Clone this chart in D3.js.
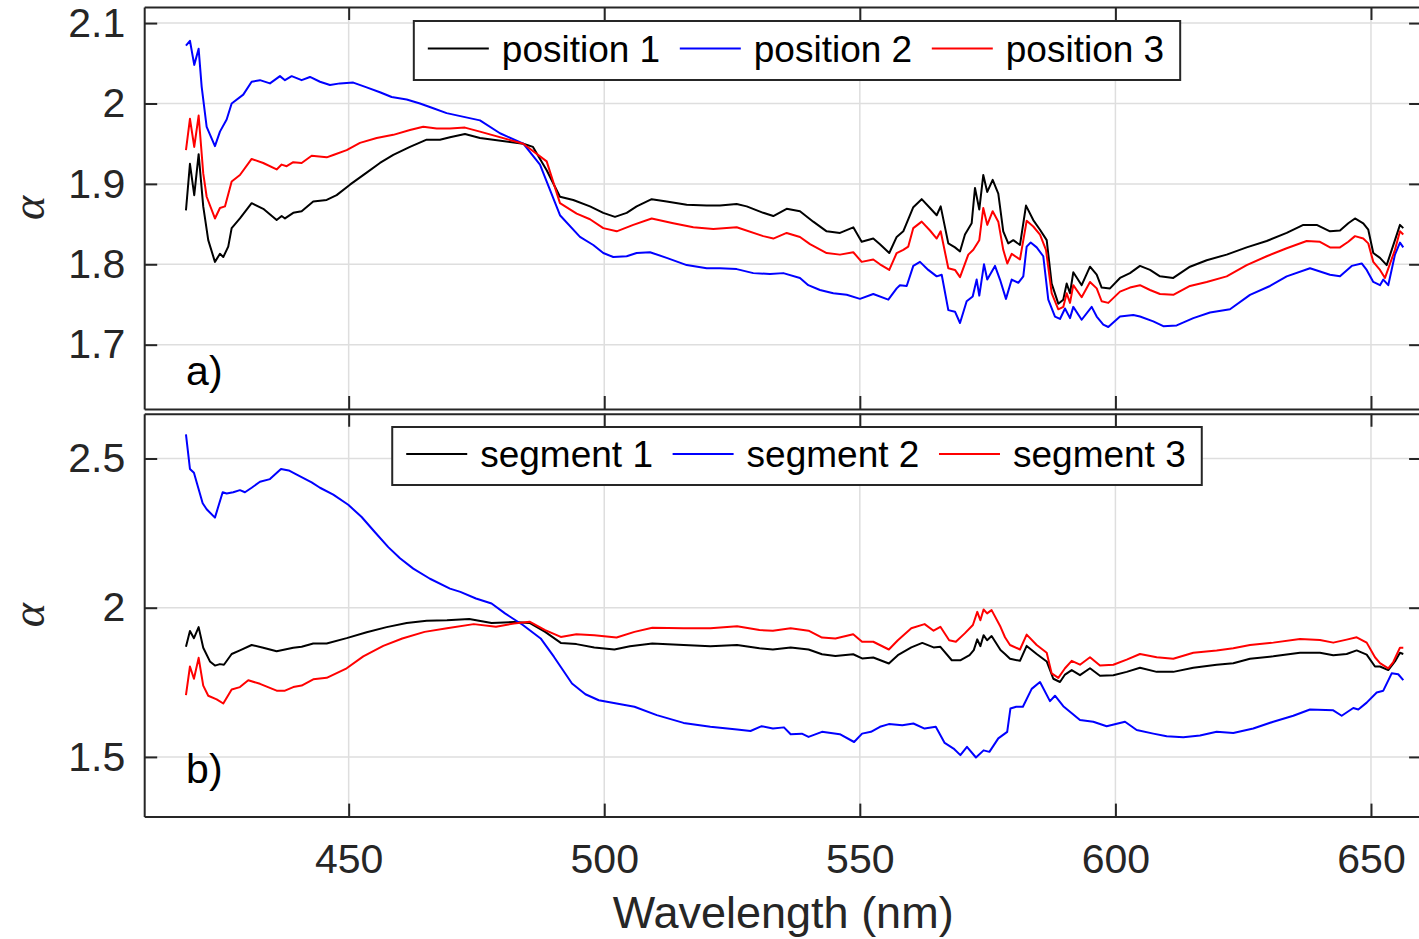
<!DOCTYPE html>
<html>
<head>
<meta charset="utf-8">
<script src="https://cdn.jsdelivr.net/npm/d3@7"></script>
<style>
  html, body { margin: 0; padding: 0; background: #ffffff; }
  svg { display: block; }
</style>
</head>
<body>
<script>
// ---------------- DATA (wavelength nm, alpha) ----------------
const xTicks = [450, 500, 550, 600, 650];
const yTicksTop = [1.7, 1.8, 1.9, 2, 2.1];
const yTicksBottom = [1.5, 2, 2.5];
const legendTop = ["position 1", "position 2", "position 3"];
const legendBottom = ["segment 1", "segment 2", "segment 3"];
const seriesColors = ["#000000", "#0000ff", "#ff0000"];
const xLabel = "Wavelength (nm)";
const yLabel = "\u03b1";

const pos1 = [[418.17,1.867],[418.95,1.925],[419.79,1.886],[420.65,1.937],[421.55,1.872],[422.53,1.830],[423.84,1.803],[424.82,1.813],[425.47,1.809],[426.44,1.822],[427.11,1.845],[428.73,1.857],[431.02,1.876],[433.29,1.869],[435.91,1.855],[436.89,1.860],[437.54,1.857],[439.16,1.864],[440.80,1.866],[443.07,1.878],[445.70,1.880],[447.65,1.886],[450.25,1.899],[453.52,1.914],[456.12,1.926],[458.73,1.936],[461.99,1.946],[465.26,1.955],[467.86,1.955],[469.82,1.958],[472.75,1.962],[475.69,1.957],[484.16,1.950],[486.06,1.946],[488.74,1.917],[491.34,1.884],[493.94,1.880],[497.21,1.872],[499.81,1.864],[502.10,1.859],[504.39,1.864],[506.34,1.872],[509.28,1.881],[512.21,1.878],[516.13,1.874],[520.04,1.873],[522.64,1.873],[525.91,1.875],[527.87,1.872],[531.11,1.864],[533.07,1.860],[535.69,1.869],[538.29,1.866],[540.89,1.853],[543.51,1.841],[546.12,1.839],[548.72,1.846],[550.36,1.828],[552.63,1.832],[553.94,1.825],[555.76,1.814],[557.21,1.834],[558.50,1.841],[560.46,1.871],[562.10,1.881],[563.73,1.870],[565.04,1.861],[565.82,1.872],[567.31,1.826],[568.62,1.821],[569.60,1.816],[570.57,1.837],[571.88,1.851],[572.53,1.895],[573.37,1.868],[574.15,1.911],[574.93,1.890],[575.99,1.905],[577.09,1.888],[578.06,1.841],[579.04,1.826],[580.02,1.830],[581.33,1.824],[582.51,1.873],[583.93,1.855],[585.25,1.843],[586.56,1.830],[587.53,1.776],[588.83,1.751],[589.80,1.756],[590.47,1.776],[591.12,1.764],[591.76,1.790],[593.40,1.774],[595.03,1.797],[596.34,1.787],[597.31,1.771],[598.94,1.770],[600.90,1.783],[602.85,1.789],[604.81,1.798],[606.77,1.793],[608.72,1.785],[611.32,1.783],[614.59,1.797],[617.86,1.805],[621.77,1.812],[625.68,1.821],[629.60,1.829],[633.51,1.839],[636.76,1.849],[639.38,1.849],[641.98,1.841],[643.94,1.842],[645.56,1.851],[646.87,1.857],[648.49,1.851],[649.47,1.843],[650.45,1.814],[651.76,1.808],[653.07,1.799],[654.69,1.830],[655.67,1.849],[656.32,1.845]];

const pos2 = [[418.17,2.072],[418.95,2.078],[419.79,2.048],[420.65,2.068],[421.24,2.021],[422.22,1.971],[423.84,1.947],[424.82,1.965],[426.13,1.980],[427.11,2.000],[429.38,2.011],[431.02,2.027],[432.65,2.029],[434.60,2.025],[436.56,2.034],[437.54,2.029],[438.85,2.034],[440.80,2.029],[442.43,2.033],[444.39,2.027],[446.34,2.023],[448.30,2.025],[450.90,2.026],[453.52,2.020],[456.12,2.014],[458.41,2.008],[461.35,2.005],[463.95,2.000],[466.55,1.994],[469.17,1.988],[472.75,1.983],[475.69,1.979],[479.60,1.963],[484.16,1.950],[487.43,1.924],[491.34,1.861],[495.25,1.834],[497.85,1.824],[499.81,1.814],[501.77,1.809],[504.39,1.810],[506.34,1.814],[508.95,1.815],[512.21,1.808],[516.13,1.799],[520.04,1.795],[522.64,1.795],[525.91,1.794],[529.16,1.789],[532.42,1.788],[535.03,1.789],[538.29,1.783],[539.92,1.774],[542.20,1.768],[544.81,1.764],[547.43,1.762],[550.03,1.757],[552.63,1.763],[555.57,1.756],[557.21,1.770],[557.85,1.774],[559.17,1.773],[560.46,1.798],[561.77,1.803],[563.39,1.793],[565.04,1.785],[566.02,1.787],[567.31,1.743],[568.62,1.741],[569.60,1.727],[570.90,1.754],[572.08,1.760],[572.86,1.781],[573.37,1.761],[574.29,1.800],[574.93,1.781],[576.44,1.798],[577.42,1.781],[578.59,1.757],[579.71,1.781],[581.00,1.777],[581.98,1.785],[582.64,1.822],[583.43,1.827],[584.60,1.821],[585.89,1.810],[586.87,1.756],[588.18,1.735],[589.16,1.732],[590.14,1.745],[591.12,1.733],[591.76,1.747],[593.40,1.731],[595.36,1.747],[596.34,1.735],[597.63,1.725],[598.61,1.722],[600.90,1.735],[603.50,1.737],[604.81,1.735],[607.41,1.729],[609.37,1.723],[611.99,1.724],[615.24,1.733],[618.51,1.740],[622.42,1.744],[626.33,1.762],[630.24,1.773],[633.51,1.785],[638.07,1.795],[641.98,1.787],[643.94,1.785],[646.23,1.798],[648.18,1.801],[649.16,1.793],[650.45,1.778],[651.76,1.774],[652.41,1.781],[653.38,1.774],[654.69,1.812],[655.67,1.827],[656.32,1.821]];

const pos3 = [[418.17,1.942],[418.95,1.981],[419.79,1.946],[420.65,1.985],[421.55,1.913],[422.22,1.884],[423.84,1.857],[424.82,1.870],[425.80,1.872],[427.11,1.903],[428.73,1.911],[431.02,1.931],[433.29,1.926],[435.91,1.918],[436.89,1.924],[437.87,1.922],[439.16,1.927],[440.80,1.926],[442.76,1.935],[445.70,1.933],[446.99,1.936],[449.61,1.942],[452.21,1.951],[455.48,1.957],[458.73,1.961],[461.99,1.967],[464.59,1.971],[467.22,1.969],[469.82,1.969],[472.75,1.970],[475.69,1.965],[484.16,1.950],[488.74,1.928],[491.34,1.876],[494.61,1.863],[497.21,1.856],[499.81,1.845],[502.43,1.841],[505.68,1.849],[509.28,1.857],[513.50,1.851],[517.42,1.846],[521.33,1.844],[525.91,1.846],[531.11,1.835],[533.07,1.832],[535.69,1.839],[538.29,1.834],[540.25,1.825],[543.51,1.814],[546.12,1.812],[548.72,1.815],[550.36,1.803],[552.63,1.806],[553.94,1.800],[555.76,1.793],[557.21,1.814],[558.50,1.818],[559.48,1.822],[560.46,1.845],[562.10,1.853],[563.73,1.842],[565.04,1.832],[565.82,1.841],[567.31,1.795],[568.62,1.793],[569.60,1.784],[571.22,1.812],[572.20,1.818],[573.37,1.830],[574.15,1.870],[574.93,1.849],[575.99,1.866],[577.09,1.853],[578.06,1.818],[578.85,1.801],[579.71,1.813],[581.33,1.806],[582.64,1.854],[583.93,1.847],[585.25,1.837],[586.42,1.818],[587.53,1.764],[588.83,1.744],[589.80,1.747],[590.47,1.764],[591.12,1.752],[591.76,1.774],[593.40,1.759],[595.03,1.778],[596.34,1.770],[597.31,1.754],[598.61,1.752],[600.90,1.766],[602.85,1.771],[604.81,1.774],[606.77,1.768],[608.72,1.763],[611.32,1.762],[614.59,1.773],[617.86,1.778],[621.77,1.785],[625.68,1.799],[629.60,1.810],[633.51,1.820],[637.42,1.829],[640.02,1.828],[641.98,1.821],[643.94,1.821],[645.56,1.828],[646.87,1.835],[648.49,1.832],[649.47,1.826],[650.45,1.803],[651.76,1.793],[652.74,1.783],[654.69,1.818],[655.67,1.841],[656.32,1.837]];

const seg1 = [[418.17,1.869],[418.95,1.922],[419.73,1.898],[420.65,1.935],[421.55,1.866],[422.86,1.820],[423.84,1.806],[424.82,1.811],[425.60,1.809],[427.11,1.845],[428.73,1.857],[431.02,1.875],[433.29,1.866],[435.91,1.854],[437.54,1.860],[439.16,1.866],[440.80,1.869],[443.07,1.880],[445.70,1.880],[449.61,1.898],[453.52,1.918],[457.43,1.935],[461.35,1.949],[465.26,1.956],[469.23,1.958],[473.59,1.962],[477.96,1.949],[482.32,1.952],[485.39,1.949],[488.44,1.919],[491.50,1.882],[494.55,1.878],[498.05,1.867],[501.98,1.860],[505.03,1.871],[509.40,1.880],[515.52,1.875],[520.76,1.871],[525.99,1.875],[530.37,1.864],[532.99,1.860],[536.47,1.867],[539.97,1.860],[542.60,1.844],[545.22,1.838],[548.70,1.844],[550.44,1.830],[552.63,1.833],[555.68,1.813],[557.44,1.841],[560.07,1.867],[562.22,1.882],[564.43,1.867],[565.76,1.869],[567.99,1.824],[569.73,1.824],[571.47,1.841],[572.29,1.858],[572.98,1.894],[573.58,1.871],[574.21,1.908],[574.90,1.891],[575.78,1.905],[577.52,1.858],[578.40,1.845],[579.38,1.829],[581.33,1.822],[582.64,1.872],[584.60,1.845],[586.56,1.820],[587.85,1.762],[589.16,1.751],[590.14,1.776],[591.45,1.791],[593.07,1.774],[595.03,1.797],[596.98,1.772],[599.59,1.774],[602.21,1.785],[604.81,1.799],[608.08,1.785],[611.32,1.785],[615.24,1.799],[619.81,1.809],[623.06,1.814],[626.33,1.829],[630.89,1.837],[636.11,1.849],[640.02,1.849],[642.62,1.841],[645.24,1.845],[647.20,1.857],[649.16,1.843],[650.78,1.803],[651.76,1.803],[653.38,1.791],[654.69,1.820],[655.67,1.849],[656.32,1.845]];

const seg2 = [[418.17,2.581],[418.95,2.465],[419.73,2.452],[420.57,2.402],[421.44,2.350],[422.22,2.330],[423.84,2.302],[425.35,2.387],[426.13,2.383],[427.42,2.387],[428.73,2.394],[429.71,2.387],[431.02,2.402],[432.65,2.422],[434.60,2.431],[436.76,2.465],[438.27,2.460],[440.22,2.443],[442.76,2.420],[444.39,2.402],[446.99,2.379],[449.92,2.345],[452.54,2.304],[455.15,2.253],[457.75,2.203],[460.04,2.166],[462.64,2.131],[465.91,2.097],[469.82,2.064],[471.85,2.053],[474.90,2.031],[477.96,2.014],[480.58,1.981],[484.08,1.942],[487.56,1.897],[490.18,1.835],[493.69,1.746],[496.31,1.710],[498.93,1.690],[502.41,1.679],[505.91,1.668],[510.28,1.640],[515.52,1.614],[520.76,1.601],[525.99,1.592],[528.61,1.587],[530.80,1.603],[532.99,1.595],[535.16,1.599],[536.47,1.576],[538.66,1.578],[539.97,1.567],[542.60,1.584],[546.08,1.576],[548.88,1.550],[550.44,1.578],[552.18,1.584],[553.94,1.601],[555.68,1.610],[558.31,1.606],[560.48,1.612],[562.67,1.595],[564.86,1.601],[566.60,1.547],[568.34,1.528],[569.67,1.506],[570.96,1.534],[572.72,1.498],[574.21,1.522],[575.35,1.517],[577.09,1.562],[578.83,1.584],[579.46,1.662],[580.59,1.668],[581.90,1.668],[583.62,1.728],[585.25,1.751],[587.20,1.687],[588.18,1.705],[589.80,1.670],[593.07,1.624],[595.67,1.618],[598.29,1.603],[601.88,1.618],[604.16,1.590],[607.41,1.578],[610.03,1.569],[613.28,1.566],[616.55,1.572],[619.81,1.584],[623.06,1.580],[626.97,1.595],[630.89,1.618],[634.80,1.638],[638.07,1.659],[642.62,1.656],[644.27,1.638],[646.54,1.664],[647.52,1.659],[649.16,1.682],[651.12,1.716],[652.41,1.722],[654.05,1.780],[655.33,1.777],[656.32,1.757]];

const seg3 = [[418.17,1.707],[418.95,1.803],[419.73,1.762],[420.65,1.832],[421.55,1.739],[422.53,1.705],[424.18,1.693],[425.47,1.679],[427.11,1.726],[428.73,1.734],[430.36,1.757],[432.65,1.745],[435.91,1.722],[437.54,1.722],[439.16,1.734],[440.80,1.739],[443.07,1.760],[445.70,1.765],[449.61,1.797],[452.86,1.837],[456.77,1.872],[460.49,1.897],[464.85,1.919],[469.23,1.931],[474.47,1.945],[478.82,1.936],[482.32,1.947],[485.39,1.953],[488.44,1.925],[491.50,1.902],[494.55,1.911],[498.05,1.908],[502.41,1.900],[505.91,1.919],[509.40,1.933],[515.52,1.931],[520.76,1.931],[525.99,1.938],[530.37,1.925],[532.99,1.923],[536.47,1.931],[539.97,1.923],[542.60,1.900],[545.22,1.897],[548.70,1.911],[550.44,1.886],[552.63,1.886],[555.68,1.860],[557.44,1.891],[560.07,1.931],[562.67,1.945],[564.43,1.923],[565.76,1.936],[567.48,1.891],[568.79,1.886],[570.53,1.914],[572.12,1.942],[572.98,1.986],[573.58,1.958],[574.21,1.994],[574.90,1.981],[575.78,1.992],[577.52,1.936],[578.40,1.901],[579.38,1.875],[581.33,1.860],[582.64,1.910],[584.60,1.875],[586.56,1.849],[587.53,1.780],[588.83,1.765],[590.14,1.797],[591.45,1.822],[593.07,1.809],[595.03,1.834],[596.98,1.806],[599.59,1.809],[602.21,1.826],[604.81,1.845],[608.08,1.834],[611.32,1.829],[615.24,1.849],[619.81,1.857],[623.06,1.864],[626.33,1.875],[630.89,1.883],[636.11,1.895],[640.02,1.892],[642.62,1.883],[645.24,1.893],[647.20,1.901],[649.16,1.883],[650.78,1.834],[651.76,1.814],[653.38,1.797],[654.36,1.818],[655.67,1.866],[656.32,1.866]];

// ---------------- LAYOUT / STYLE ----------------
const W = 1419, H = 939;
const AXC = "#262626";
const FONT = "'Liberation Sans', Arial, Helvetica, sans-serif";
const TICK_FS = 41, LEG_FS = 37, LAB_FS = 45;
const TICK_LEN = 13;

const svg = d3.select("body").append("svg").attr("width", W).attr("height", H)
  .style("font-family", FONT);

const x = d3.scaleLinear().domain([410, 660]).range([144.2, 1422.1]);

const panels = [
  { top: 7, bottom: 409, domain: [1.62, 2.12], ticks: yTicksTop, series: [pos1, pos2, pos3],
    names: legendTop, legendTop: 21, legendH: 59, tag: "a)", tagAt: [418.2, 1.667], xLabels: false },
  { top: 413.75, bottom: 816.6, domain: [1.3, 2.65], ticks: yTicksBottom, series: [seg1, seg2, seg3],
    names: legendBottom, legendTop: 427, legendH: 58, tag: "b)", tagAt: [418.2, 1.46], xLabels: true }
];

panels.forEach((p, pi) => {
  const y = d3.scaleLinear().domain(p.domain).range([p.bottom, p.top]);
  const g = svg.append("g");
  const x0 = x.range()[0], x1 = x.range()[1];

  // clip
  const cid = "clip" + pi;
  svg.append("defs").append("clipPath").attr("id", cid)
    .append("rect").attr("x", x0).attr("y", p.top).attr("width", x1 - x0).attr("height", p.bottom - p.top);

  // grid
  const grid = g.append("g").attr("stroke", "#dedede").attr("stroke-width", 1.5);
  grid.selectAll("line.vx").data(xTicks).join("line")
    .attr("x1", d => x(d)).attr("x2", d => x(d)).attr("y1", p.top).attr("y2", p.bottom);
  grid.selectAll("line.hy").data(p.ticks).join("line")
    .attr("x1", x0).attr("x2", x1).attr("y1", d => y(d)).attr("y2", d => y(d));

  // data lines
  const line = d3.line().x(d => x(d[0])).y(d => y(d[1]));
  const lg = g.append("g").attr("clip-path", `url(#${cid})`);
  p.series.forEach((s, i) => {
    lg.append("path").datum(s).attr("d", line).attr("fill", "none")
      .attr("stroke", seriesColors[i]).attr("stroke-width", 2).attr("stroke-linejoin", "round");
  });

  // axes (ticks inward on all four sides)
  const styleAxis = sel => {
    sel.select(".domain").attr("stroke", AXC).attr("stroke-width", 2);
    sel.selectAll(".tick line").attr("stroke", AXC).attr("stroke-width", 2);
    sel.selectAll(".tick text").attr("fill", AXC).style("font-size", TICK_FS + "px").style("font-family", FONT);
  };
  const fmt = d => String(d);
  g.append("g").attr("transform", `translate(${x0},0)`)
    .call(d3.axisLeft(y).tickValues(p.ticks).tickFormat(fmt).tickSizeInner(-TICK_LEN).tickSizeOuter(0).tickPadding(19))
    .call(styleAxis);
  g.append("g").attr("transform", `translate(${x1},0)`)
    .call(d3.axisRight(y).tickValues(p.ticks).tickFormat("").tickSizeInner(-TICK_LEN).tickSizeOuter(0))
    .call(styleAxis);
  g.append("g").attr("transform", `translate(0,${p.top})`)
    .call(d3.axisTop(x).tickValues(xTicks).tickFormat("").tickSizeInner(-TICK_LEN).tickSizeOuter(0))
    .call(styleAxis);
  const bx = g.append("g").attr("transform", `translate(0,${p.bottom})`)
    .call(d3.axisBottom(x).tickValues(xTicks).tickFormat(p.xLabels ? fmt : "").tickSizeInner(-TICK_LEN).tickSizeOuter(0).tickPadding(20))
    .call(styleAxis);
  if (p.xLabels) {
    bx.selectAll(".tick text").attr("dy", null)
      .attr("y", 873 - p.bottom).attr("dominant-baseline", "auto");
  }

  // y label (alpha)
  const cy = (p.top + p.bottom) / 2;
  g.append("text").text(yLabel)
    .attr("transform", `translate(28,${cy}) rotate(-90)`)
    .attr("text-anchor", "middle").attr("dominant-baseline", "central")
    .style("font-family", "'Liberation Serif', 'DejaVu Serif', serif")
    .style("font-style", "italic").style("font-size", "46px").attr("fill", AXC);

  // panel tag
  g.append("text").text(p.tag)
    .attr("x", x(p.tagAt[0])).attr("y", y(p.tagAt[1]))
    .attr("dominant-baseline", "central")
    .style("font-size", TICK_FS + "px").attr("fill", "#000");

  // legend
  const leg = g.append("g");
  const box = leg.append("rect").attr("fill", "#fff").attr("stroke", AXC).attr("stroke-width", 2);
  const padL = 14, lineLen = 61, gapLT = 13, gapItem = 19.6, padR = 16;
  const lineY = p.legendTop + p.legendH * 0.465;
  const items = [];
  p.names.forEach((nm, i) => {
    const t = leg.append("text").text(nm).style("font-size", LEG_FS + "px").attr("fill", "#000");
    const tw = t.node().getComputedTextLength();
    items.push({ t, tw, i });
  });
  const total = padL + items.reduce((a, it) => a + lineLen + gapLT + it.tw, 0) + gapItem * (items.length - 1) + padR;
  const lx0 = 797 - total / 2;
  box.attr("x", lx0).attr("y", p.legendTop).attr("width", total).attr("height", p.legendH);
  let cx = lx0 + padL;
  items.forEach(it => {
    leg.append("line").attr("x1", cx).attr("x2", cx + lineLen).attr("y1", lineY).attr("y2", lineY)
      .attr("stroke", seriesColors[it.i]).attr("stroke-width", 2);
    it.t.attr("x", cx + lineLen + gapLT).attr("y", lineY + 13.4);
    cx += lineLen + gapLT + it.tw + gapItem;
  });
});

// x axis label
svg.append("text").text(xLabel)
  .attr("x", (x.range()[0] + x.range()[1]) / 2).attr("y", 928)
  .attr("text-anchor", "middle").style("font-size", LAB_FS + "px").attr("fill", AXC);
</script>
</body>
</html>
